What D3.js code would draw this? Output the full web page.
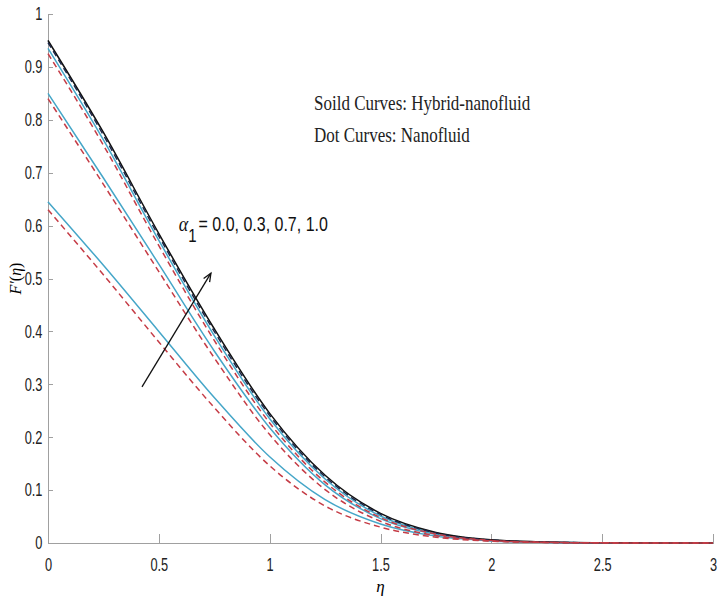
<!DOCTYPE html>
<head>
<meta charset="utf-8">
<style>
  body {margin: 0; background: #fff;}
  .axis path, .axis line {fill: none; stroke: #a0a0a0; shape-rendering: crispEdges;}
  .axis path {stroke-width: 1.5;}
  .axis text {font-family: "Liberation Sans", Arial, sans-serif; font-size: 16px; fill: #222;}
  .line {fill: none; stroke-width: 1.5;}
  .note {font-family: "Liberation Serif", "DejaVu Serif", serif; font-size: 17px; fill: #222;}
</style>
</head>
<body>
<svg width="720" height="602"></svg>
<script src="https://d3js.org/d3.v7.min.js"></script>
<script>
// eta grid
var eta = [0, 0.25, 0.5, 0.75, 1.0, 1.25, 1.5, 1.75, 2.0, 2.25, 2.5, 2.75, 3.0];

// solid curves: hybrid nanofluid
var hybrid10 = [0.950, 0.776, 0.585, 0.405, 0.245, 0.128, 0.056, 0.020, 0.006, 0.0017, 0.0004, 0.0001, 0];
var hybrid07 = [0.935, 0.762, 0.572, 0.392, 0.235, 0.121, 0.051, 0.018, 0.005, 0.0014, 0.0003, 0.0001, 0];
var hybrid03 = [0.850, 0.690, 0.527, 0.363, 0.218, 0.110, 0.046, 0.016, 0.0045, 0.0012, 0.0003, 0.0001, 0];
var hybrid00 = [0.645, 0.525, 0.400, 0.275, 0.163, 0.082, 0.036, 0.013, 0.004, 0.0011, 0.0003, 0.0001, 0];

// dashed curves: nanofluid
var nano10 = [0.946, 0.771, 0.580, 0.400, 0.241, 0.125, 0.054, 0.019, 0.0055, 0.0015, 0.0004, 0.0001, 0];
var nano07 = [0.925, 0.752, 0.562, 0.383, 0.227, 0.115, 0.048, 0.017, 0.0048, 0.0013, 0.0003, 0.0001, 0];
var nano03 = [0.840, 0.678, 0.513, 0.350, 0.205, 0.101, 0.041, 0.014, 0.004, 0.0011, 0.0003, 0.0001, 0];
var nano00 = [0.630, 0.507, 0.380, 0.256, 0.146, 0.070, 0.030, 0.011, 0.0035, 0.001, 0.0002, 0.0001, 0];

var xTicks = [0, 0.5, 1, 1.5, 2, 2.5, 3];
var yTicks = [0, 0.1, 0.2, 0.3, 0.4, 0.5, 0.6, 0.7, 0.8, 0.9, 1];

var svg = d3.select("svg"),
    margin = {top: 14, right: 7, bottom: 59, left: 48},
    width = +svg.attr("width") - margin.left - margin.right,
    height = +svg.attr("height") - margin.top - margin.bottom,
    graph = svg.append("g").attr("transform", "translate(" + margin.left + "," + margin.top + ")");

var x = d3.scaleLinear().domain([0, 3]).range([0, width]),
    y = d3.scaleLinear().domain([0, 1]).range([height, 0]);

var series = [
  {vals: hybrid00, color: "#45a6c8", dash: null},
  {vals: hybrid03, color: "#45a6c8", dash: null},
  {vals: hybrid07, color: "#45a6c8", dash: null},
  {vals: hybrid10, color: "#111111", dash: null},
  {vals: nano10, color: "#1d2748", dash: "6,4"},
  {vals: nano07, color: "#c53c46", dash: "6,4"},
  {vals: nano03, color: "#c53c46", dash: "6,4"},
  {vals: nano00, color: "#c53c46", dash: "6,4"}
];

// axes (ticks point inward), labels squeezed like the narrow matlab font
graph.append("g")
    .attr("class", "x axis")
    .attr("transform", "translate(0," + height + ")")
    .call(d3.axisBottom(x).tickValues(xTicks).tickSize(-9).tickSizeOuter(0).tickPadding(13)
      .tickFormat(d3.format("")));

graph.append("g")
    .attr("class", "y axis")
    .call(d3.axisLeft(y).tickValues(yTicks).tickSize(-5).tickSizeOuter(0).tickPadding(7)
      .tickFormat(d3.format("")));

graph.selectAll(".axis .tick line").attr("stroke", "#808080");
graph.selectAll(".axis .tick text").attr("transform", "scale(0.8,1.15)");

var line = d3.line()
    .curve(d3.curveMonotoneX)
    .x(function(d, i) { return x(eta[i]); })
    .y(function(d) { return y(d); });

graph.selectAll(".curve")
    .data(series)
  .enter().append("path")
    .attr("class", "line")
    .attr("d", function(d) { return line(d.vals); })
    .attr("stroke", function(d) { return d.color; })
    .attr("stroke-dasharray", function(d) { return d.dash; });

// axis titles
svg.append("text")
    .attr("x", margin.left + width / 2)
    .attr("y", 592)
    .attr("text-anchor", "middle")
    .attr("font-family", "Liberation Serif, serif")
    .attr("font-style", "italic")
    .attr("font-size", 17)
    .text("η");

var yl = svg.append("text")
    .attr("transform", "translate(21," + (margin.top + height / 2) + ") rotate(-90)")
    .attr("text-anchor", "middle")
    .attr("font-family", "Liberation Serif, serif")
    .attr("font-size", 16);
yl.append("tspan").attr("font-style", "italic").text("F′");
yl.append("tspan").text("(");
yl.append("tspan").attr("font-style", "italic").text("η");
yl.append("tspan").text(")");

// legend notes
var notes = ["Soild Curves: Hybrid-nanofluid", "Dot Curves: Nanofluid"],
    noteY = [0.818, 0.758];
notes.forEach(function(t, i) {
  graph.append("g")
      .attr("transform", "translate(" + x(1.20) + "," + y(noteY[i]) + ") scale(1,1.2)")
    .append("text").attr("class", "note")
      .text(t);
});

// alpha annotation
var al = graph.append("g")
    .attr("transform", "translate(" + x(0.59) + "," + y(0.590) + ") scale(1,1.22)")
  .append("text")
    .attr("font-family", "Liberation Sans, Arial, sans-serif")
    .attr("font-size", 16)
    .attr("fill", "#111");
al.append("tspan").attr("font-family", "Liberation Serif, serif").attr("font-style", "italic").attr("font-size", 18).text("α");
al.append("tspan").attr("dy", 9).attr("font-size", 15).text("1");
al.append("tspan").attr("dy", -9).attr("dx", 2).text("= 0.0, 0.3, 0.7, 1.0");

// arrow with open head
var arrowFrom = [0.424, 0.295], arrowTo = [0.735, 0.510];
var ax1 = x(arrowFrom[0]), ay1 = y(arrowFrom[1]), ax2 = x(arrowTo[0]), ay2 = y(arrowTo[1]);
var ang = Math.atan2(ay2 - ay1, ax2 - ax1), hl = 9, ha = 0.4;
graph.append("line")
    .attr("x1", ax1).attr("y1", ay1)
    .attr("x2", ax2).attr("y2", ay2)
    .attr("stroke", "#111")
    .attr("stroke-width", 1.3);
graph.append("path")
    .attr("d", "M" + (ax2 - hl * Math.cos(ang - ha)) + "," + (ay2 - hl * Math.sin(ang - ha)) +
               "L" + ax2 + "," + ay2 +
               "L" + (ax2 - hl * Math.cos(ang + ha)) + "," + (ay2 - hl * Math.sin(ang + ha)))
    .attr("fill", "none")
    .attr("stroke", "#111")
    .attr("stroke-width", 1.3);
</script>
</body>
